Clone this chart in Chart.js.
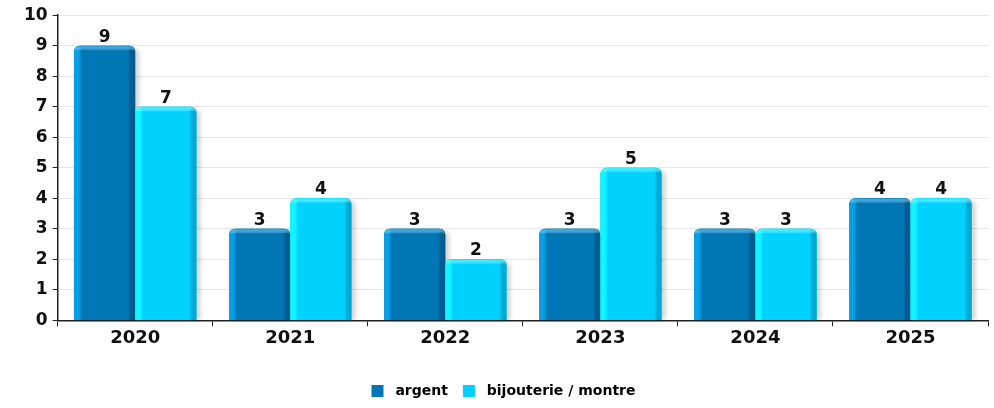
<!DOCTYPE html>
<html>
<head>
<meta charset="utf-8">
<script src="https://cdn.jsdelivr.net/npm/chart.js@4/dist/chart.umd.min.js"></script>
<style>
  html, body { margin: 0; padding: 0; background: #fff; }
  #wrap { width: 994px; height: 408px; }
</style>
</head>
<body>
<div id="wrap"><canvas id="chart-bar"></canvas></div>
<script>
var years = ["2020", "2021", "2022", "2023", "2024", "2025"];
var argent = [9, 3, 3, 3, 3, 4];
var bijouterie = [7, 4, 2, 5, 3, 4];
var seriesNames = ["argent", "bijouterie / montre"];

// couleurs : base, bord gauche (clair), bord droit (sombre)
var shades = [
  { base: "#0076b4", light: "#0a9fe4", dark: "#005c8e" },
  { base: "#00d2ff", light: "#12f4ff", dark: "#00aad4" },
];

function barPath(ctx, x, y, w, h, r) {
  ctx.beginPath();
  ctx.moveTo(x, y + h);
  ctx.lineTo(x, y + r);
  ctx.quadraticCurveTo(x, y, x + r, y);
  ctx.lineTo(x + w - r, y);
  ctx.quadraticCurveTo(x + w, y, x + w, y + r);
  ctx.lineTo(x + w, y + h);
  ctx.closePath();
}

// ombre + relief des barres, puis valeurs au-dessus
var barRelief = {
  id: "barRelief",
  beforeDatasetsDraw: function (chart) {
    var ctx = chart.ctx;
    ctx.save();
    ctx.fillStyle = "rgba(0,0,0,0.17)";
    ctx.filter = "blur(2px)";
    chart.data.datasets.forEach(function (ds, di) {
      chart.getDatasetMeta(di).data.forEach(function (bar) {
        var w = bar.width, x = bar.x - w / 2, y = bar.y, h = bar.base - bar.y;
        barPath(ctx, x + 4, y + 3, w, h - 3, 5);
        ctx.fill();
      });
    });
    ctx.restore();
  },
  afterDatasetsDraw: function (chart) {
    var ctx = chart.ctx;
    chart.data.datasets.forEach(function (ds, di) {
      var c = shades[di];
      chart.getDatasetMeta(di).data.forEach(function (bar, i) {
        var w = bar.width, x = bar.x - w / 2, y = bar.y, h = bar.base - bar.y;
        ctx.save();
        barPath(ctx, x, y, w, h, 6);
        var g = ctx.createLinearGradient(x, 0, x + w, 0);
        g.addColorStop(0, c.light);
        g.addColorStop(0.08, c.light);
        g.addColorStop(0.13, c.base);
        g.addColorStop(0.88, c.base);
        g.addColorStop(0.93, c.dark);
        g.addColorStop(1, c.dark);
        ctx.fillStyle = g;
        ctx.fill();
        ctx.clip();
        var t = ctx.createLinearGradient(0, y, 0, y + 5);
        t.addColorStop(0, c.light);
        t.addColorStop(1, "rgba(255,255,255,0)");
        ctx.fillStyle = t;
        ctx.fillRect(x, y, w, 5);
        ctx.restore();

        ctx.save();
        ctx.fillStyle = "#111";
        ctx.font = "bold 17px 'DejaVu Sans'";
        ctx.textAlign = "center";
        ctx.textBaseline = "alphabetic";
        ctx.fillText(ds.data[i], bar.x, y - 4);
        ctx.restore();
      });
    });
  },
};

var ctx = document.getElementById("chart-bar").getContext("2d");
new Chart(ctx, {
  type: "bar",
  data: {
    labels: years,
    datasets: [
      {
        label: seriesNames[0],
        data: argent,
        backgroundColor: shades[0].base,
        borderRadius: 6,
        borderSkipped: "bottom",
      },
      {
        label: seriesNames[1],
        data: bijouterie,
        backgroundColor: shades[1].base,
        borderRadius: 6,
        borderSkipped: "bottom",
      },
    ],
  },
  options: {
    responsive: true,
    maintainAspectRatio: false,
    animation: false,
    categoryPercentage: 0.79,
    barPercentage: 1,
    layout: {
      padding: { left: 19, right: 6, top: 9, bottom: 0 },
    },
    plugins: {
      tooltip: { enabled: false },
      legend: {
        position: "bottom",
        labels: {
          boxWidth: 12,
          boxHeight: 12,
          padding: 15,
          color: "#808080",
          font: { family: "'DejaVu Sans'", size: 14, weight: "bold" },
          generateLabels: function (chart) {
            return chart.data.datasets.map(function (ds, i) {
              return {
                text: " " + ds.label,
                fillStyle: shades[i].base,
                strokeStyle: shades[i].base,
                lineWidth: 0,
                datasetIndex: i,
              };
            });
          },
        },
      },
    },
    scales: {
      x: {
        grid: {
          display: true,
          offset: true,
          drawOnChartArea: false,
          tickLength: 6,
          tickColor: "#222",
        },
        border: { color: "#222", width: 1.5 },
        ticks: {
          color: "#111",
          padding: 1,
          font: { family: "'DejaVu Sans'", size: 18, weight: "bold" },
        },
        afterFit: function (scale) {
          scale.height += 19;
        },
      },
      y: {
        min: 0,
        max: 10,
        ticks: {
          stepSize: 1,
          color: "#111",
          padding: 5,
          font: { family: "'DejaVu Sans'", size: 17, weight: "bold" },
        },
        grid: {
          color: "#e6e6e6",
          tickColor: "#222",
          tickLength: 5,
        },
        border: { color: "#222", width: 1.5 },
      },
    },
  },
  plugins: [barRelief],
});
</script>
</body>
</html>
